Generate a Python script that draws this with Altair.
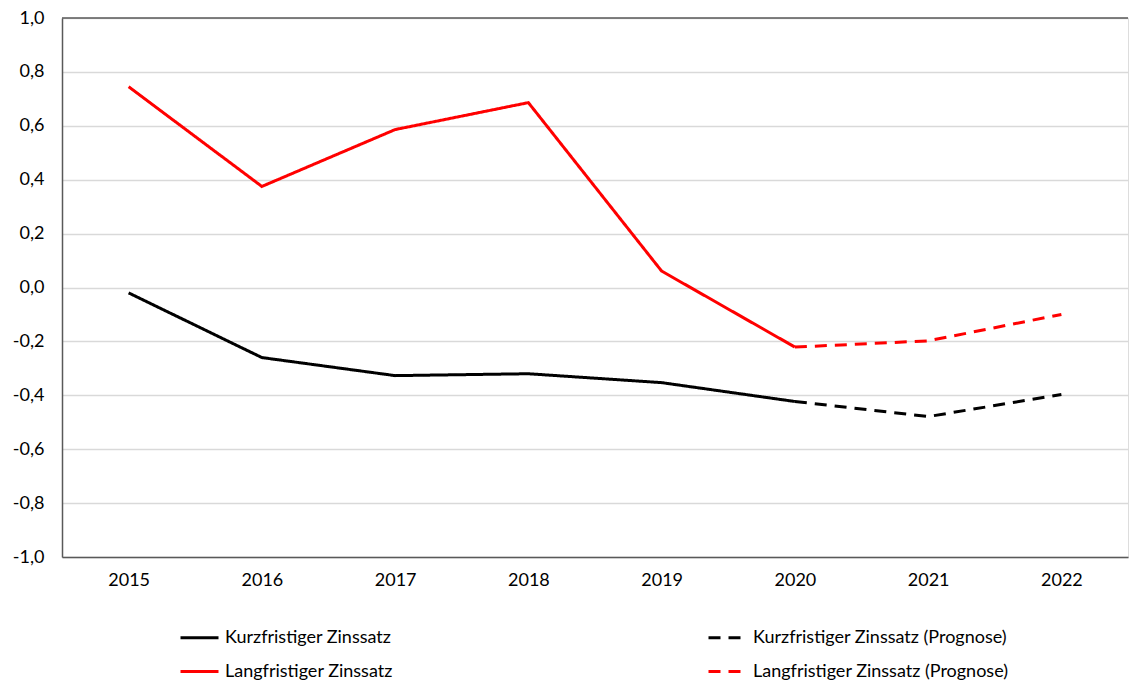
import altair as alt
import pandas as pd

years = ["2015", "2016", "2017", "2018", "2019", "2020", "2021", "2022"]
kurz = [-0.02, -0.26, -0.327, -0.32, -0.353, -0.423]
lang = [0.745, 0.375, 0.586, 0.686, 0.061, -0.221]
kurz_prog = [-0.423, -0.479, -0.397]
lang_prog = [-0.221, -0.198, -0.10]
prog_years = ["2020", "2021", "2022"]

# order chosen so the 2-column legend shows the Prognose entries in the right column
series_names = [
    "Kurzfristiger Zinssatz",
    "Langfristiger Zinssatz",
    "Kurzfristiger Zinssatz (Prognose)",
    "Langfristiger Zinssatz (Prognose)",
]
series_colors = ["#000000", "#ff0000", "#000000", "#ff0000"]
series_dash = [[1, 0], [1, 0], [12, 8], [12, 8]]

rows = []
for y, v in zip(years[:6], kurz):
    rows.append({"Jahr": y, "Wert": v, "Serie": series_names[0]})
for y, v in zip(years[:6], lang):
    rows.append({"Jahr": y, "Wert": v, "Serie": series_names[1]})
for y, v in zip(prog_years, kurz_prog):
    rows.append({"Jahr": y, "Wert": v, "Serie": series_names[2]})
for y, v in zip(prog_years, lang_prog):
    rows.append({"Jahr": y, "Wert": v, "Serie": series_names[3]})
df = pd.DataFrame(rows)

FONT = "Lato"

yscale = alt.Scale(domain=[-1, 1], nice=False)


def make_legend():
    return alt.Legend(
        title=None,
        orient="none",
        legendX=117,
        legendY=599,
        columns=2,
        columnPadding=309,
        rowPadding=4,
        symbolType="stroke",
        symbolSize=1444,
        symbolStrokeWidth=3,
        labelFontSize=18,
        labelFont=FONT,
        labelColor="#000000",
        labelOffset=5,
        labelLimit=400,
        gridAlign="each",
    )


lines = alt.Chart(df).mark_line(strokeWidth=3, strokeJoin="miter").encode(
    x=alt.X(
        "Jahr:N",
        sort=years,
        scale=alt.Scale(paddingInner=0, paddingOuter=0),
        axis=alt.Axis(
            title=None,
            labelAngle=0,
            ticks=False,
            labelPadding=14,
            labelFontSize=18,
            labelColor="#000000",
            labelFont=FONT,
            domainColor="#595959",
            domainWidth=1.5,
            grid=False,
        ),
    ),
    y=alt.Y(
        "Wert:Q",
        scale=yscale,
        axis=alt.Axis(
            title=None,
            values=[-1.0, -0.8, -0.6, -0.4, -0.2, 0.0, 0.2, 0.4, 0.6, 0.8, 1.0],
            labelExpr="replace(replace(format(datum.value, '.1f'), '.', ','), '\u2212', '-')",
            ticks=False,
            labelPadding=18,
            labelFontSize=18,
            labelColor="#000000",
            labelFont=FONT,
            domainColor="#595959",
            domainWidth=1.5,
            grid=True,
            gridColor="#d9d9d9",
            gridWidth=1.5,
        ),
    ),
    color=alt.Color(
        "Serie:N",
        sort=series_names,
        scale=alt.Scale(domain=series_names, range=series_colors),
        legend=make_legend(),
    ),
    strokeDash=alt.StrokeDash(
        "Serie:N",
        sort=series_names,
        scale=alt.Scale(domain=series_names, range=series_dash),
        legend=make_legend(),
    ),
    detail="Serie:N",
)

top_border = alt.Chart(pd.DataFrame({"v": [1.0]})).mark_rule(color="#595959", strokeWidth=1.5).encode(
    y=alt.Y("v:Q", scale=yscale),
)

chart = alt.layer(top_border, lines).properties(
    width=1066,
    height=539,
    padding={"left": 54, "top": 10, "right": 1, "bottom": 127},
    autosize=alt.AutoSizeParams(type="none"),
).configure_view(stroke=None).configure(background="white")

chart.save("out.html", embed_options={"renderer": "svg", "actions": False})
